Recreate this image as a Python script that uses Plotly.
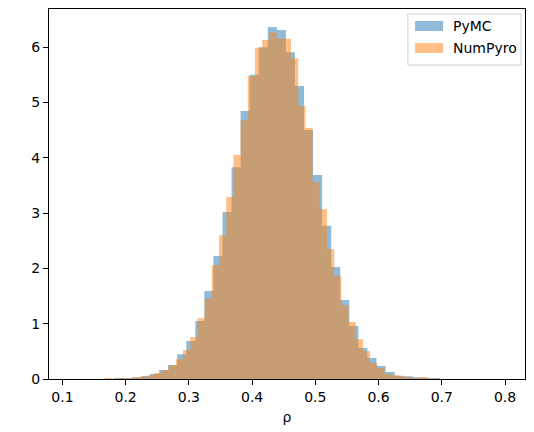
import plotly.graph_objects as go

# Histogram data (density)
pymc_start = 0.1813
pymc_width = 0.014324
pymc_heights = [0.02, 0.02, 0.025, 0.054, 0.09, 0.163, 0.253, 0.446, 0.687, 1.049,
                1.591, 2.224, 3.02, 3.83, 4.846, 5.50, 6.0, 6.365, 6.31, 5.91,
                5.30, 4.50, 3.69, 2.77, 2.025, 1.43, 0.958, 0.56, 0.38, 0.235,
                0.127, 0.06, 0.05, 0.03, 0.02, 0.018]

numpyro_start = 0.16559
numpyro_width = 0.011382
numpyro_heights = [0.018, 0.005, 0.018, 0.018, 0.036, 0.04, 0.07, 0.108, 0.163, 0.25,
                   0.357, 0.524, 0.759, 1.097, 1.447, 2.06, 2.60, 3.29, 4.05, 4.68,
                   5.48, 5.99, 6.13, 6.27, 6.15, 6.15, 5.80, 4.94, 4.54, 3.56,
                   3.07, 2.35, 1.86, 1.34, 1.03, 0.72, 0.506, 0.29, 0.2, 0.09,
                   0.07, 0.05, 0.03, 0.02, 0.036, 0.01]

series_names = ["PyMC", "NumPyro"]
series_colors = ["rgba(31,119,180,0.5)", "rgba(255,127,14,0.5)"]

x_ticks = [0.1, 0.2, 0.3, 0.4, 0.5, 0.6, 0.7, 0.8]
y_ticks = [0, 1, 2, 3, 4, 5, 6]


def step_xy(start, width, heights):
    xs = [start + width * i for i in range(len(heights) + 1)]
    ys = list(heights) + [heights[-1]]
    return xs, ys


fig = go.Figure()
for (start, width, heights), name, color in zip(
        [(pymc_start, pymc_width, pymc_heights),
         (numpyro_start, numpyro_width, numpyro_heights)],
        series_names, series_colors):
    xs, ys = step_xy(start, width, heights)
    fig.add_trace(go.Scatter(
        x=xs, y=ys, name=name, mode="lines",
        line=dict(shape="hv", width=0, color=color),
        fill="tozeroy", fillcolor=color, showlegend=False,
        hoverinfo="skip",
    ))

axis_common = dict(
    showline=True, mirror=True, linecolor="black", linewidth=1,
    ticks="outside", ticklen=5, tickwidth=1, tickcolor="black",
    showgrid=False, zeroline=False,
    tickfont=dict(family="DejaVu Sans", size=14, color="black"),
)

# manual matplotlib-style legend
shapes = [dict(type="rect", xref="paper", yref="paper",
               x0=0.754, x1=0.9916, y0=0.8486, y1=0.9865,
               line=dict(color="#d0d0d0", width=1),
               fillcolor="rgba(255,255,255,0.8)", layer="above")]
annotations = []
patch_y = [(0.9405, 0.9676), (0.881, 0.908)]
for (y0, y1), name, color in zip(patch_y, series_names, series_colors):
    shapes.append(dict(type="rect", xref="paper", yref="paper",
                       x0=0.769, x1=0.828, y0=y0, y1=y1,
                       line=dict(width=0), fillcolor=color, layer="above"))
    annotations.append(dict(xref="paper", yref="paper", x=0.8445, y=(y0 + y1) / 2,
                            text=name, showarrow=False, xanchor="left", yanchor="middle",
                            font=dict(family="DejaVu Sans", size=14, color="black")))

fig.update_layout(
    width=534, height=432,
    margin=dict(l=49, r=9, t=9, b=53),
    paper_bgcolor="white", plot_bgcolor="white",
    showlegend=False,
    font=dict(family="DejaVu Sans", size=14, color="black"),
    xaxis=dict(range=[0.0788, 0.8316], tickvals=x_ticks,
               ticktext=[f"{v:.1f}" for v in x_ticks],
               title=dict(text="ρ", font=dict(size=14), standoff=8),
               **axis_common),
    yaxis=dict(range=[0, 6.69], tickvals=y_ticks,
               ticktext=[str(v) for v in y_ticks], **axis_common),
    shapes=shapes,
    annotations=annotations,
)

fig.write_html("out.html")
